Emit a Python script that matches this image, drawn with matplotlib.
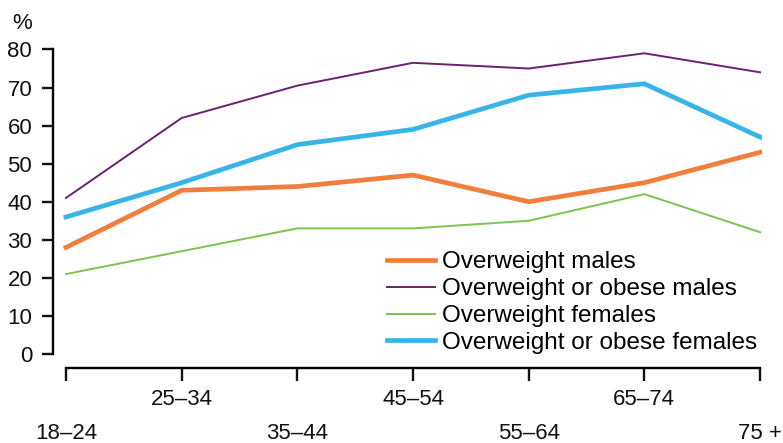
import matplotlib.pyplot as plt

plt.rcParams['font.family'] = ['Liberation Sans', 'DejaVu Sans']

ages = ['18–24', '25–34', '35–44', '45–54', '55–64', '65–74', '75 +']
ow_males = [28, 43, 44, 47, 40, 45, 53]
ow_ob_males = [41, 62, 70.5, 76.5, 75, 79, 74]
ow_females = [21, 27, 33, 33, 35, 42, 32]
ow_ob_females = [36, 45, 55, 59, 68, 71, 57]

fig = plt.figure(figsize=(7.83, 4.43), dpi=100)
ax = fig.add_axes([0.0677, 0.2009, 0.9055, 0.6874])

x = range(len(ages))
ax.plot(x, ow_males, color='#F07F3E', lw=3.4, label='Overweight males')
ax.plot(x, ow_ob_males, color='#6A2270', lw=1.4, label='Overweight or obese males')
ax.plot(x, ow_females, color='#7CC350', lw=1.4, label='Overweight females')
ax.plot(x, ow_ob_females, color='#39B4E6', lw=3.4, label='Overweight or obese females')

ax.set_ylim(0, 80)
ax.set_xlim(-0.112, 6.017)
ax.set_yticks(range(0, 81, 10))

for s in ['top', 'right']:
    ax.spines[s].set_visible(False)
ax.spines['left'].set_linewidth(1.7)
ax.spines['bottom'].set_linewidth(1.7)
ax.spines['bottom'].set_position(('outward', 10))
ax.spines['bottom'].set_bounds(0, 6)

# age groups staggered on two rows
ax.set_xticks([0, 2, 4, 6], [ages[i] for i in (0, 2, 4, 6)])
ax.set_xticks([1, 3, 5], [ages[i] for i in (1, 3, 5)], minor=True)
ax.tick_params(axis='x', which='both', direction='out', length=9.5, width=1.7,
               labelsize=16, colors='#111111')
ax.tick_params(axis='x', which='minor', pad=5.5)
ax.tick_params(axis='x', which='major', pad=30.5)
ax.tick_params(axis='y', direction='out', length=8, width=1.7, labelsize=16,
               pad=7, colors='#111111')

ax.text(-0.044, 1.05, '%', transform=ax.transAxes, fontsize=16, ha='center',
        va='bottom', color='#111111')

ax.legend(loc='lower right', bbox_to_anchor=(0.993, 0.0), frameon=False,
          fontsize=17.5, handlelength=1.95, handletextpad=0.3, labelspacing=0.2,
          borderaxespad=0, borderpad=0)

fig.savefig('out.png', dpi=100)
